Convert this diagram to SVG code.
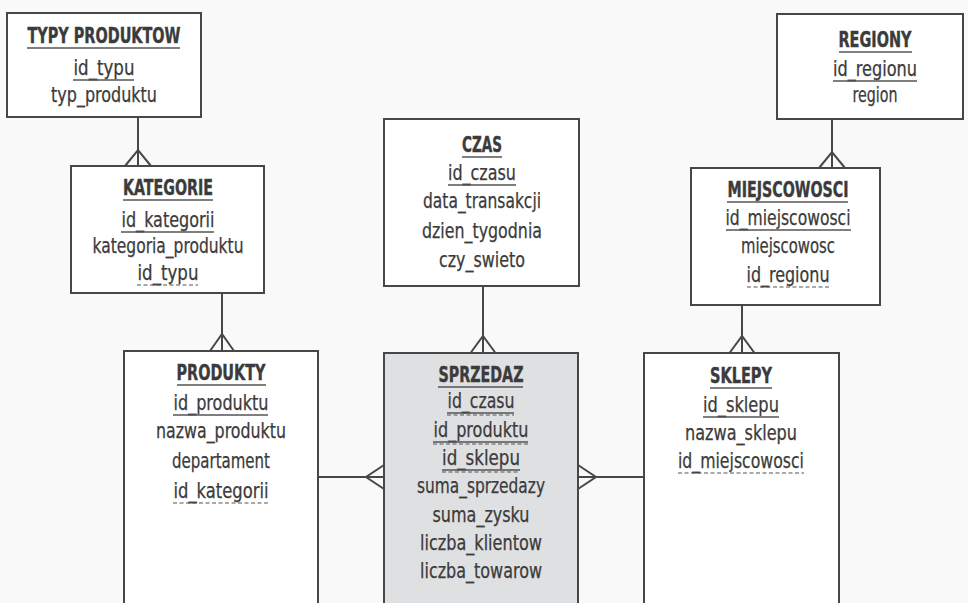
<svg xmlns="http://www.w3.org/2000/svg" width="968" height="603" viewBox="0 0 968 603">
  <style>
    .bg { fill: #f9f9f9; }
    .box { fill: #ffffff; stroke: #474747; stroke-width: 2; }
    .fact { fill: #dfe0e1; }
    .t { font-family: "Liberation Sans Narrow", "DejaVu Sans Condensed", "Liberation Sans", sans-serif; font-size: 20.5px; fill: #3b3b3b; stroke: #3b3b3b; stroke-width: 0.25; text-anchor: middle; }
    .h { font-weight: bold; stroke-width: 0.4; }
    .ul { stroke: #555555; stroke-width: 1.3; }
    .fk { stroke: #555555; stroke-width: 1.1; stroke-dasharray: 4 2.5; }
    .ln { stroke: #474747; stroke-width: 2; fill: none; }
  </style>

  <rect class="bg" x="0" y="0" width="968" height="603"/>

  <!-- relationships (one-to-many, crow's foot on the many side) -->
  <g id="connectors">
    <!-- TYPY PRODUKTOW -> KATEGORIE -->
    <path class="ln" d="M138 117 V166 M125 166 L138 150 L151 166"/>
    <!-- KATEGORIE -> PRODUKTY -->
    <path class="ln" d="M222 293 V351 M210 351 L222 334 L234 351"/>
    <!-- CZAS -> SPRZEDAZ -->
    <path class="ln" d="M483 286 V353 M470.5 353 L483 336 L495.5 353"/>
    <!-- REGIONY -> MIEJSCOWOSCI -->
    <path class="ln" d="M832 119 V168 M819 168 L832 152 L845 168"/>
    <!-- MIEJSCOWOSCI -> SKLEPY -->
    <path class="ln" d="M742 305 V353 M729.5 353 L742 336 L754.5 353"/>
    <!-- PRODUKTY -> SPRZEDAZ -->
    <path class="ln" d="M318 477 H384 M384 465 L366 477 L384 489"/>
    <!-- SKLEPY -> SPRZEDAZ -->
    <path class="ln" d="M644 477 H578 M578 465 L596 477 L578 489"/>
  </g>

  <g id="typy_produktow">
    <rect class="box" x="7" y="13" width="194" height="104"/>
    <text class="t h" x="104" y="43" textLength="153" lengthAdjust="spacingAndGlyphs">TYPY PRODUKTOW</text>
    <line class="ul" x1="27" y1="48" x2="180" y2="48"/>
    <text class="t" x="104" y="75" textLength="61" lengthAdjust="spacingAndGlyphs">id_typu</text>
    <line class="ul" x1="73" y1="80" x2="134" y2="80"/>
    <text class="t" x="104" y="102" textLength="106" lengthAdjust="spacingAndGlyphs">typ_produktu</text>
  </g>

  <g id="kategorie">
    <rect class="box" x="71" y="166" width="193" height="127"/>
    <text class="t h" x="168" y="195" textLength="90" lengthAdjust="spacingAndGlyphs">KATEGORIE</text>
    <line class="ul" x1="123" y1="200" x2="213" y2="200"/>
    <text class="t" x="168" y="227" textLength="93" lengthAdjust="spacingAndGlyphs">id_kategorii</text>
    <line class="ul" x1="121" y1="232" x2="214" y2="232"/>
    <text class="t" x="168" y="253" textLength="151" lengthAdjust="spacingAndGlyphs">kategoria_produktu</text>
    <text class="t" x="168" y="280" textLength="61" lengthAdjust="spacingAndGlyphs">id_typu</text>
    <line class="fk" x1="137" y1="285" x2="198" y2="285"/>
  </g>

  <g id="czas">
    <rect class="box" x="384" y="119" width="195" height="167"/>
    <text class="t h" x="482" y="152" textLength="40" lengthAdjust="spacingAndGlyphs">CZAS</text>
    <line class="ul" x1="462" y1="157" x2="502" y2="157"/>
    <text class="t" x="482" y="180" textLength="68" lengthAdjust="spacingAndGlyphs">id_czasu</text>
    <line class="ul" x1="448" y1="185" x2="516" y2="185"/>
    <text class="t" x="482" y="208" textLength="118" lengthAdjust="spacingAndGlyphs">data_transakcji</text>
    <text class="t" x="482" y="238" textLength="120" lengthAdjust="spacingAndGlyphs">dzien_tygodnia</text>
    <text class="t" x="482" y="267" textLength="86" lengthAdjust="spacingAndGlyphs">czy_swieto</text>
  </g>

  <g id="regiony">
    <rect class="box" x="777" y="14" width="186" height="105"/>
    <text class="t h" x="875" y="47" textLength="73" lengthAdjust="spacingAndGlyphs">REGIONY</text>
    <line class="ul" x1="839" y1="52" x2="912" y2="52"/>
    <text class="t" x="875" y="76" textLength="84" lengthAdjust="spacingAndGlyphs">id_regionu</text>
    <line class="ul" x1="833" y1="81" x2="917" y2="81"/>
    <text class="t" x="875" y="102" textLength="45" lengthAdjust="spacingAndGlyphs">region</text>
  </g>

  <g id="miejscowosci">
    <rect class="box" x="691" y="168" width="189" height="137"/>
    <text class="t h" x="788" y="197" textLength="121" lengthAdjust="spacingAndGlyphs">MIEJSCOWOSCI</text>
    <line class="ul" x1="727" y1="202" x2="848" y2="202"/>
    <text class="t" x="788" y="225" textLength="125" lengthAdjust="spacingAndGlyphs">id_miejscowosci</text>
    <line class="ul" x1="726" y1="230" x2="851" y2="230"/>
    <text class="t" x="788" y="253" textLength="94" lengthAdjust="spacingAndGlyphs">miejscowosc</text>
    <text class="t" x="788" y="282" textLength="83" lengthAdjust="spacingAndGlyphs">id_regionu</text>
    <line class="fk" x1="747" y1="287" x2="830" y2="287"/>
  </g>

  <g id="produkty">
    <rect class="box" x="124" y="351" width="194" height="260"/>
    <text class="t h" x="221" y="380" textLength="89" lengthAdjust="spacingAndGlyphs">PRODUKTY</text>
    <line class="ul" x1="177" y1="385" x2="266" y2="385"/>
    <text class="t" x="221" y="410" textLength="95" lengthAdjust="spacingAndGlyphs">id_produktu</text>
    <line class="ul" x1="173" y1="415" x2="268" y2="415"/>
    <text class="t" x="221" y="438" textLength="130" lengthAdjust="spacingAndGlyphs">nazwa_produktu</text>
    <text class="t" x="221" y="468" textLength="98" lengthAdjust="spacingAndGlyphs">departament</text>
    <text class="t" x="221" y="498" textLength="95" lengthAdjust="spacingAndGlyphs">id_kategorii</text>
    <line class="fk" x1="173" y1="503" x2="268" y2="503"/>
  </g>

  <g id="sprzedaz">
    <rect class="box fact" x="384" y="353" width="194" height="260"/>
    <text class="t h" x="481" y="382" textLength="85" lengthAdjust="spacingAndGlyphs">SPRZEDAZ</text>
    <line class="ul" x1="438" y1="387" x2="523" y2="387"/>
    <text class="t" x="481" y="408" textLength="67" lengthAdjust="spacingAndGlyphs">id_czasu</text>
    <line class="ul" x1="447" y1="413" x2="514" y2="413"/>
    <line class="fk" x1="447" y1="415" x2="514" y2="415"/>
    <text class="t" x="481" y="437" textLength="95" lengthAdjust="spacingAndGlyphs">id_produktu</text>
    <line class="ul" x1="433" y1="442" x2="528" y2="442"/>
    <line class="fk" x1="433" y1="444" x2="528" y2="444"/>
    <text class="t" x="481" y="465" textLength="78" lengthAdjust="spacingAndGlyphs">id_sklepu</text>
    <line class="ul" x1="442" y1="470" x2="520" y2="470"/>
    <line class="fk" x1="442" y1="472" x2="520" y2="472"/>
    <text class="t" x="481" y="493" textLength="128" lengthAdjust="spacingAndGlyphs">suma_sprzedazy</text>
    <text class="t" x="481" y="522" textLength="97" lengthAdjust="spacingAndGlyphs">suma_zysku</text>
    <text class="t" x="481" y="550" textLength="122" lengthAdjust="spacingAndGlyphs">liczba_klientow</text>
    <text class="t" x="481" y="578" textLength="122" lengthAdjust="spacingAndGlyphs">liczba_towarow</text>
  </g>

  <g id="sklepy">
    <rect class="box" x="644" y="353" width="195" height="260"/>
    <text class="t h" x="741" y="383" textLength="62" lengthAdjust="spacingAndGlyphs">SKLEPY</text>
    <line class="ul" x1="710" y1="388" x2="772" y2="388"/>
    <text class="t" x="741" y="412" textLength="76" lengthAdjust="spacingAndGlyphs">id_sklepu</text>
    <line class="ul" x1="703" y1="417" x2="779" y2="417"/>
    <text class="t" x="741" y="440" textLength="112" lengthAdjust="spacingAndGlyphs">nazwa_sklepu</text>
    <text class="t" x="741" y="468" textLength="126" lengthAdjust="spacingAndGlyphs">id_miejscowosci</text>
    <line class="fk" x1="678" y1="473" x2="804" y2="473"/>
  </g>
</svg>
